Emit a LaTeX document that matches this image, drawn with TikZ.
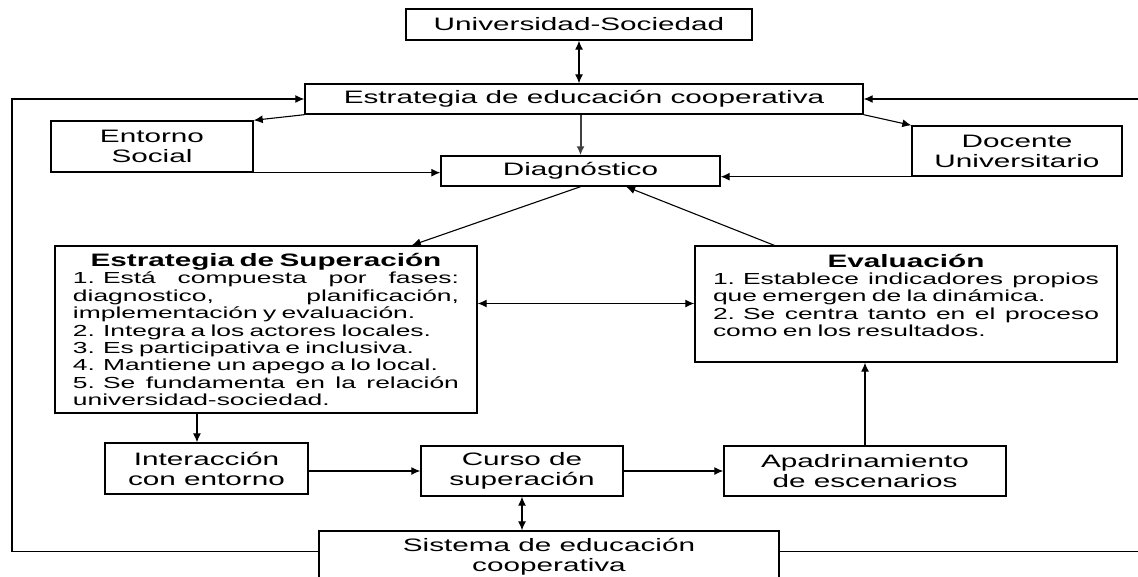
\documentclass[tikz,border=0pt]{standalone}
\usepackage{fontspec}
\setmainfont{Liberation Sans}[FakeStretch=1.65]
\usetikzlibrary{arrows.meta}

\tikzset{every picture/.style={line width=0.75pt}}
\tikzset{
  box/.style={draw, line width=0.7pt, inner sep=0pt, align=center, font=\fontsize{9}{10}\selectfont},
  listbox/.style={draw, line width=0.7pt, text width=193pt, inner xsep=9pt, align=left, font=\fontsize{8}{8.7}\selectfont},
  arr/.style={line width=0.55pt, -{Latex[length=4.5pt,width=4pt]}},
  darr/.style={line width=0.55pt, {Latex[length=4.5pt,width=4pt]}-{Latex[length=4.5pt,width=4pt]}},
}
\newcommand{\fullline}[1]{\makebox[193pt][s]{\spaceskip=.28em plus 1fil\relax #1}}
\newcommand{\boxhead}[1]{\makebox[193pt][c]{\fontsize{9}{9.5}\selectfont\bfseries #1}}

\begin{document}
\begin{tikzpicture}[x=0.5pt,y=0.5pt,yscale=-1,xscale=1]
    \useasboundingbox (0,0) rectangle (1138,577);
    \clip (0,0) rectangle (1138,577);

    %Shape: Boxes
    \node[box, minimum width=173pt, minimum height=15.5pt] (univ) at (579,24.5) {Universidad-Sociedad};
    \node[box, minimum width=279pt, minimum height=15pt] (coop) at (584,99) {Estrategia de educación cooperativa};
    \node[box, minimum width=101pt, minimum height=25.5pt] (ent) at (152,146.5) {Entorno\\Social};
    \node[box, minimum width=139.5pt, minimum height=15pt] (diag) at (580.5,171) {Diagnóstico};
    \node[box, minimum width=105pt, minimum height=25pt] (doc) at (1017,151) {Docente\\Universitario};

    % Text Node
    \node[listbox, minimum height=83.5pt] (sup) at (266,329.5) {\boxhead{Estrategia de Superación}\\
      \fullline{1. Está compuesta por fases:}\\
      \fullline{diagnostico, planificación,}\\
      implementación y evaluación.\\
      2. Integra a los actores locales.\\
      3. Es participativa e inclusiva.\\
      4. Mantiene un apego a lo local.\\
      \fullline{5. Se fundamenta en la relación}\\
      universidad-sociedad.};
    % Text Node
    \node[listbox, minimum height=58pt] (eval) at (906,304) {\boxhead{Evaluación}\\
      \fullline{1. Establece indicadores propios}\\
      que emergen de la dinámica.\\
      \fullline{2. Se centra tanto en el proceso}\\
      como en los resultados.\\
      \mbox{}};

    \node[box, minimum width=101.5pt, minimum height=25.5pt] (inter) at (206.5,468.5) {Interacción\\con entorno};
    \node[box, minimum width=101pt, minimum height=25pt] (curso) at (522,471) {Curso de\\superación};
    \node[box, minimum width=141pt, minimum height=25pt] (apad) at (865,471) {Apadrinamiento\\de escenarios};
    \node[box, minimum width=230pt, minimum height=26pt] (sis) at (549,557) {Sistema de educación\\cooperativa};

    %Connectors
    \draw[darr] (univ.south) -- (univ.south |- coop.north);
    \draw[arr, line width=1pt, black!75] (diag.north |- coop.south) -- (diag.north);
    \draw[arr] (coop.south west) -- (ent.north east);
    \draw[arr] (coop.south east) -- (doc.north west);
    \draw[arr] (ent.south east) -- (ent.south east -| diag.west);
    \draw[arr] (doc.south west) -- (doc.south west -| diag.east);
    \draw[arr] (diag.south) -- (sup.30);
    \draw[arr] (eval.156) -- (diag.-19);
    \draw[darr] (sup.7.4) -- (sup.7.4 -| eval.west);
    \draw[arr] (inter.110 |- sup.south) -- (inter.110);
    \draw[arr] (inter.east |- curso.west) -- (curso.west);
    \draw[arr] (curso.east) -- (apad.west);
    \draw[arr] (apad.north) -- (apad.north |- eval.south);
    \draw[darr] (curso.south) -- (curso.south |- sis.north);

    %Feedback loops
    \coordinate (lloop) at (12,99);
    \coordinate (rloop) at (1150,99);
    \draw[arr] (sis.north west) ++(0,21) -| (lloop) -- (coop.west);
    \draw[arr] (sis.north east) ++(0,21) -| (rloop) -- (coop.east);

\end{tikzpicture}
\end{document}
